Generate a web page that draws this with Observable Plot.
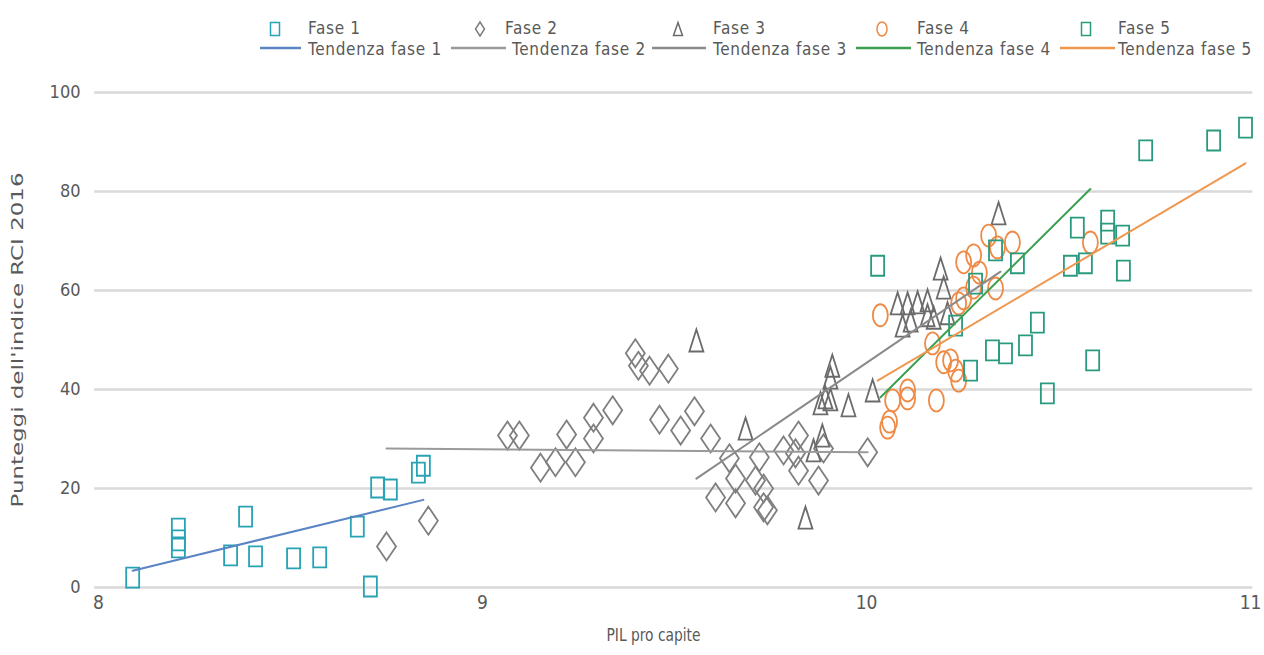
<!DOCTYPE html>
<html>
<head>
<meta charset="utf-8">
<script src="https://cdn.jsdelivr.net/npm/d3@7"></script>
<script src="https://cdn.jsdelivr.net/npm/@observablehq/plot@0.6"></script>
<style>
  html, body { margin: 0; padding: 0; background: #fff; }
  #wrap { width: 1264px; height: 655px; overflow: hidden; position: relative; }
  #legend { position: relative; width: 1264px; height: 70px; font-family: "DejaVu Sans Condensed", "DejaVu Sans", sans-serif; color: #595959; }
  #legend span { position: absolute; white-space: nowrap; line-height: 18px; height: 18px; font-size: 17px; letter-spacing: 0.7px; }
  #legend svg { position: absolute; overflow: visible; }
</style>
</head>
<body>
<div id="wrap">
  <div id="legend"></div>
  <div id="chart"></div>
</div>
<script>
// ---- data ----
const phaseNames = ["Fase 1", "Fase 2", "Fase 3", "Fase 4", "Fase 5"];
const trendNames = ["Tendenza fase 1", "Tendenza fase 2", "Tendenza fase 3", "Tendenza fase 4", "Tendenza fase 5"];

const phase1X = [8.089, 8.208, 8.208, 8.208, 8.383, 8.344, 8.409, 8.508, 8.576, 8.674, 8.708, 8.727, 8.760, 8.833, 8.846];
const phase1Y = [2.0, 11.9, 9.5, 8.1, 14.3, 6.5, 6.3, 5.9, 6.1, 12.3, 0.2, 20.2, 19.8, 23.2, 24.6];

const phase2X = [8.750, 8.859, 9.065, 9.096, 9.151, 9.190, 9.219, 9.242, 9.289, 9.289, 9.339, 9.398, 9.406, 9.435, 9.484, 9.461, 9.516, 9.552, 9.594, 9.643, 9.607, 9.659, 9.659, 9.711, 9.721, 9.732, 9.732, 9.742, 9.784, 9.823, 9.815, 9.823, 9.875, 9.888, 10.003];
const phase2Y = [8.3, 13.5, 30.7, 30.7, 24.2, 25.3, 30.9, 25.3, 34.3, 30.1, 35.8, 47.3, 44.8, 43.8, 44.2, 33.9, 31.7, 35.6, 30.1, 26.1, 18.2, 22.0, 17.0, 21.6, 26.3, 20.0, 16.2, 15.6, 27.7, 30.7, 27.1, 23.6, 21.6, 28.1, 27.3];

const phase3X = [9.557, 9.685, 9.841, 9.862, 9.885, 9.880, 9.893, 9.906, 9.906, 9.911, 9.953, 10.016, 10.081, 10.094, 10.107, 10.115, 10.133, 10.159, 10.159, 10.175, 10.193, 10.201, 10.211, 10.344];
const phase3Y = [49.9, 32.1, 14.1, 27.7, 30.7, 37.2, 38.4, 38.0, 42.4, 44.8, 36.8, 39.8, 57.4, 52.9, 57.4, 53.9, 57.6, 58.0, 55.0, 54.5, 64.4, 60.6, 55.4, 75.6];

const phase4X = [10.036, 10.055, 10.060, 10.068, 10.107, 10.107, 10.182, 10.172, 10.201, 10.219, 10.232, 10.240, 10.240, 10.253, 10.253, 10.279, 10.294, 10.279, 10.336, 10.318, 10.341, 10.380, 10.583];
const phase4Y = [55.0, 32.3, 33.5, 37.8, 39.8, 38.2, 37.8, 49.3, 45.5, 45.9, 43.8, 41.8, 57.4, 58.4, 65.7, 67.1, 63.6, 60.6, 60.4, 71.1, 68.7, 69.7, 69.7];

const phase5X = [10.029, 10.232, 10.271, 10.284, 10.336, 10.328, 10.362, 10.393, 10.414, 10.445, 10.471, 10.531, 10.549, 10.570, 10.589, 10.628, 10.628, 10.667, 10.669, 10.727, 10.904, 10.987];
const phase5Y = [65.0, 52.9, 43.8, 61.4, 68.1, 47.9, 47.3, 65.5, 48.9, 53.5, 39.2, 65.0, 72.7, 65.5, 45.9, 74.1, 71.5, 71.1, 64.0, 88.3, 90.3, 92.9];

// trend line end points
const trend1X = [8.089, 8.846];  const trend1Y = [3.4, 17.7];
const trend2X = [8.750, 10.003]; const trend2Y = [28.1, 27.3];
const trend3X = [9.557, 10.349]; const trend3Y = [22.0, 63.8];
const trend4X = [10.036, 10.583]; const trend4Y = [38.4, 80.5];
const trend5X = [10.029, 10.987]; const trend5Y = [41.8, 85.7];

const xTicks = [8, 9, 10, 11];
const yTicks = [0, 20, 40, 60, 80, 100];

// ---- styles ----
const markColors = ["#27a3b5", "#7f7f7f", "#6b6b6b", "#ee8a45", "#2a9a7f"];
const trendColors = ["#5a84c4", "#9a9a9a", "#8a8a8a", "#3da04f", "#f0974f"];

// tall marker shapes (the reference is vertically stretched)
function rectSym(w, h) { return { draw(c) { c.moveTo(-w, -h); c.lineTo(w, -h); c.lineTo(w, h); c.lineTo(-w, h); c.closePath(); } }; }
function diamondSym(w, h) { return { draw(c) { c.moveTo(0, -h); c.lineTo(w, 0); c.lineTo(0, h); c.lineTo(-w, 0); c.closePath(); } }; }
function triSym(w, h) { return { draw(c) { c.moveTo(0, -h); c.lineTo(w, h); c.lineTo(-w, h); c.closePath(); } }; }
function ellSym(rx, ry) {
  return { draw(c) {
    const k = 0.5523;
    c.moveTo(rx, 0);
    c.bezierCurveTo(rx, k * ry, k * rx, ry, 0, ry);
    c.bezierCurveTo(-k * rx, ry, -rx, k * ry, -rx, 0);
    c.bezierCurveTo(-rx, -k * ry, -k * rx, -ry, 0, -ry);
    c.bezierCurveTo(k * rx, -ry, rx, -k * ry, rx, 0);
    c.closePath();
  } };
}
const symbols = [rectSym(6.5, 10), diamondSym(9.5, 14), triSym(7, 11), ellSym(7.5, 11), rectSym(6.5, 10)];

const phaseX = [phase1X, phase2X, phase3X, phase4X, phase5X];
const phaseY = [phase1Y, phase2Y, phase3Y, phase4Y, phase5Y];
const trendX = [trend1X, trend2X, trend3X, trend4X, trend5X];
const trendY = [trend1Y, trend2Y, trend3Y, trend4Y, trend5Y];

const dotMarks = phaseX.map((xs, k) => Plot.dot(
  xs.map((x, i) => ({x, y: phaseY[k][i]})),
  {x: "x", y: "y", symbol: symbols[k], stroke: markColors[k], strokeWidth: 1.8, fill: "none"}
));
const lineMarks = trendX.map((xs, k) => Plot.line(
  xs.map((x, i) => ({x, y: trendY[k][i]})),
  {x: "x", y: "y", stroke: trendColors[k], strokeWidth: 2}
));

const chart = Plot.plot({
  width: 1264,
  height: 585,
  marginTop: 22,
  marginBottom: 68,
  marginLeft: 98,
  marginRight: 14,
  style: {fontFamily: "'DejaVu Sans Condensed', 'DejaVu Sans', sans-serif", fontSize: "18px", color: "#595959", background: "#fff"},
  x: {domain: [8, 11]},
  y: {domain: [0, 100]},
  marks: [
    Plot.ruleY(yTicks, {x1: 7.99, x2: 11.006, stroke: "#d9d9d9", strokeWidth: 2.5}),
    Plot.axisX({ticks: xTicks, tickSize: 0, tickPadding: 8, label: null, fontSize: 19, tickFormat: d => String(d)}),
    Plot.axisY({ticks: yTicks, tickSize: 0, tickPadding: 18, label: null, fontSize: 18, tickFormat: d => String(d)}),
    ...dotMarks,
    ...lineMarks,
    Plot.text(["PIL pro capite"], {text: d => d, frameAnchor: "bottom", textAnchor: "middle", dy: 53, dx: -21, fontSize: 17, fill: "#595959", ariaDescription: "xtitle"}),
    Plot.text(["Punteggi dell'indice RCI 2016"], {text: d => d, frameAnchor: "left", textAnchor: "middle", dx: -80, rotate: -90, fontSize: 15, fill: "#595959", fontFamily: "'DejaVu Sans', sans-serif", ariaDescription: "ytitle"})
  ]
});
document.getElementById("chart").appendChild(chart);
d3.select(chart).selectAll('g[aria-description="ytitle"] text').attr("textLength", 335).attr("lengthAdjust", "spacingAndGlyphs");
d3.select(chart).selectAll('g[aria-description="xtitle"] text').attr("textLength", 94).attr("lengthAdjust", "spacingAndGlyphs");

// ---- legend ----
const legend = document.getElementById("legend");
function addText(txt, left, yc) {
  const s = document.createElement("span");
  s.textContent = txt;
  s.style.left = left + "px";
  s.style.top = (yc - 9) + "px";
  legend.appendChild(s);
}
const row1Icon = [275, 480, 678, 882, 1086];
const row1Text = [308, 505, 713, 917, 1118];
const row2Line = [[260, 301], [451, 506], [652, 706], [856, 911], [1060, 1115]];
const row2Text = [308, 512, 713, 917, 1118];
const legendSymbols = [rectSym(4.5, 6.5), diamondSym(4.5, 7), triSym(4.5, 6.5), ellSym(5, 7), rectSym(4.5, 6.5)];
const NS = "http://www.w3.org/2000/svg";
phaseNames.forEach((name, k) => {
  const svg = document.createElementNS(NS, "svg");
  svg.setAttribute("width", 20); svg.setAttribute("height", 20);
  svg.style.left = (row1Icon[k] - 10) + "px"; svg.style.top = (29 - 10) + "px";
  const p = d3.path(); legendSymbols[k].draw(p);
  const path = document.createElementNS(NS, "path");
  path.setAttribute("d", p.toString());
  path.setAttribute("transform", "translate(10,10)");
  path.setAttribute("fill", "none"); path.setAttribute("stroke", markColors[k]); path.setAttribute("stroke-width", 1.5);
  svg.appendChild(path);
  legend.appendChild(svg);
  addText(name, row1Text[k], 28);
});
trendNames.forEach((name, k) => {
  const [a, b] = row2Line[k];
  const svg = document.createElementNS(NS, "svg");
  svg.setAttribute("width", b - a); svg.setAttribute("height", 6);
  svg.style.left = a + "px"; svg.style.top = (48 - 3) + "px";
  const ln = document.createElementNS(NS, "line");
  ln.setAttribute("x1", 0); ln.setAttribute("x2", b - a); ln.setAttribute("y1", 3); ln.setAttribute("y2", 3);
  ln.setAttribute("stroke", trendColors[k]); ln.setAttribute("stroke-width", 2.5);
  svg.appendChild(ln);
  legend.appendChild(svg);
  addText(name, row2Text[k], 49);
});
</script>
</body>
</html>
